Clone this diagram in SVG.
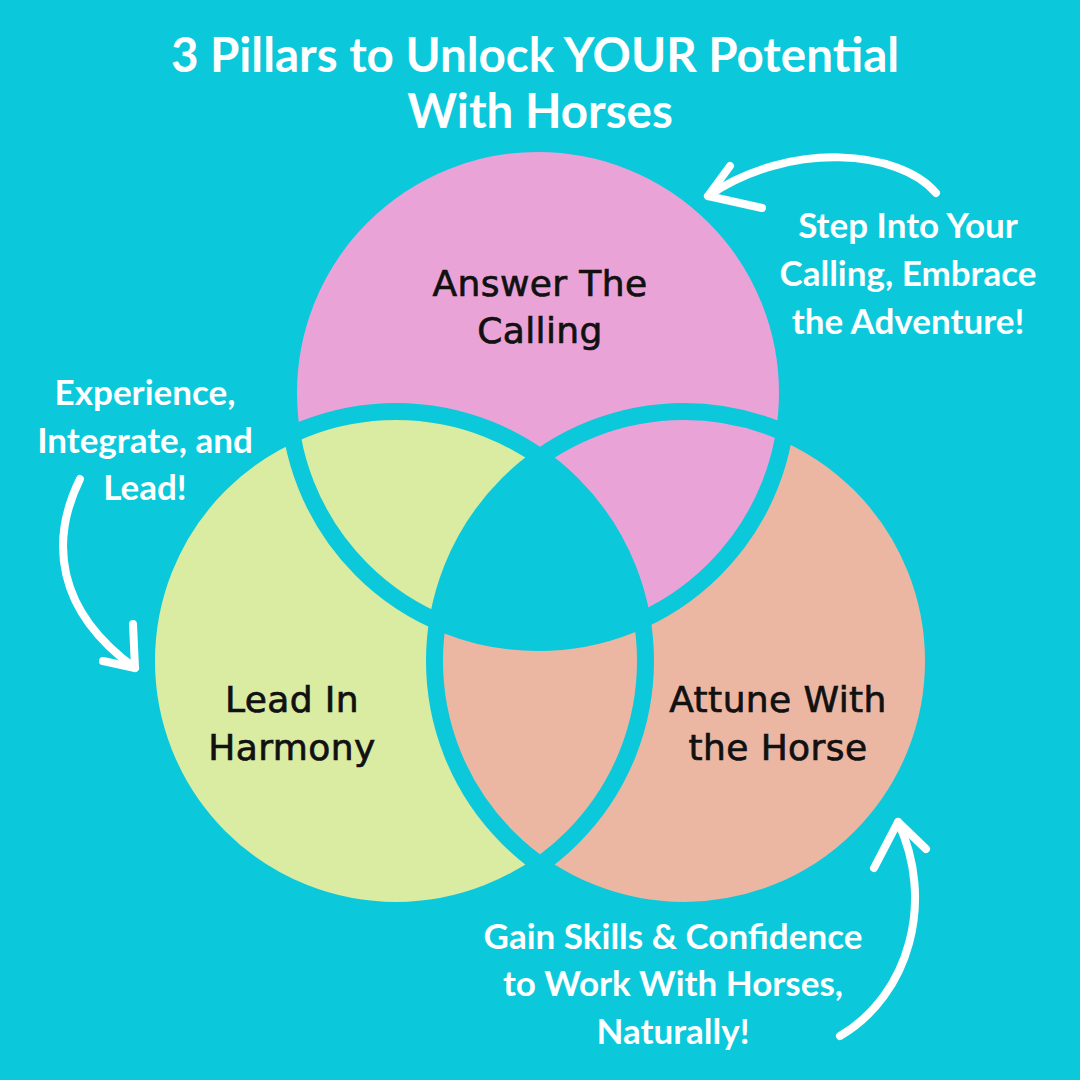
<svg xmlns="http://www.w3.org/2000/svg" width="1080" height="1080" viewBox="0 0 1080 1080">
<defs>
<style>
.bg{fill:#0BC9DB}
.ring{fill:none;stroke:#0BC9DB;stroke-width:17}
.note{font-family:Lato,"Liberation Sans",sans-serif;font-weight:700;fill:#FFFFFF;text-anchor:middle}
.lbl{font-family:"DejaVu Sans","Liberation Sans",sans-serif;font-weight:400;fill:#111111;stroke:#111111;stroke-width:0.7;text-anchor:middle;font-size:36px;letter-spacing:0.4px}
.arrow{fill:none;stroke:#FFFFFF;stroke-width:8;stroke-linecap:round;stroke-linejoin:round}
</style>
<clipPath id="cTop"><circle cx="538" cy="393" r="249.5"/></clipPath>
<clipPath id="cLeft"><circle cx="396" cy="661" r="249.5"/></clipPath>
<clipPath id="cRight"><circle cx="684" cy="661" r="249.5"/></clipPath>
</defs>
<rect class="bg" x="0" y="0" width="1080" height="1080"/>

<text class="note" x="535" y="72" font-size="47.5">3 Pillars to Unlock YOUR Potential</text>
<text class="note" x="540" y="128" font-size="47.5">With Horses</text>

<g id="node-top"><circle cx="538" cy="393" r="249.5" fill="#EAA3D6"/></g>
<g id="node-left"><circle cx="396" cy="661" r="249.5" fill="#DAEBA2"/></g>
<g id="node-right"><circle cx="684" cy="661" r="249.5" fill="#EBB7A3"/></g>
<g id="overlaps">
<circle cx="538" cy="393" r="249.5" fill="#EAA3D6" clip-path="url(#cRight)"/>
<g clip-path="url(#cLeft)"><circle cx="538" cy="393" r="249.5" fill="#0BC9DB" clip-path="url(#cRight)"/></g>
</g>
<g id="rings">
<circle class="ring" cx="538" cy="393" r="249.5"/>
<circle class="ring" cx="396" cy="661" r="249.5"/>
<circle class="ring" cx="684" cy="661" r="249.5"/>
</g>

<g id="labels">
<text class="lbl" x="540" y="296">Answer The</text>
<text class="lbl" x="540" y="343">Calling</text>
<text class="lbl" x="292" y="712">Lead In</text>
<text class="lbl" x="292" y="760">Harmony</text>
<text class="lbl" x="778" y="712">Attune With</text>
<text class="lbl" x="778" y="760">the Horse</text>
</g>

<g id="notes">
<text class="note" x="908" y="238" font-size="35">Step Into Your</text>
<text class="note" x="908" y="286" font-size="35">Calling, Embrace</text>
<text class="note" x="908" y="334" font-size="35">the Adventure!</text>
<text class="note" x="145" y="405" font-size="35">Experience,</text>
<text class="note" x="145" y="453" font-size="35">Integrate, and</text>
<text class="note" x="145" y="500" font-size="35">Lead!</text>
<text class="note" x="673" y="949" font-size="35">Gain Skills &amp; Confidence</text>
<text class="note" x="673" y="996" font-size="35">to Work With Horses,</text>
<text class="note" x="673" y="1044" font-size="35">Naturally!</text>
</g>

<g id="connectors">
<path class="arrow" d="M936,193 C900,150 790,140 708,196"/>
<path class="arrow" d="M730,166 L708,196 L762,208"/>
<path class="arrow" d="M80,479 C50,540 55,610 135,668"/>
<path class="arrow" d="M133,624 L135,668 L103,661"/>
<path class="arrow" d="M840,1036 C910,995 935,900 898,822"/>
<path class="arrow" d="M874,868 L898,822 L926,849"/>
</g>
</svg>
